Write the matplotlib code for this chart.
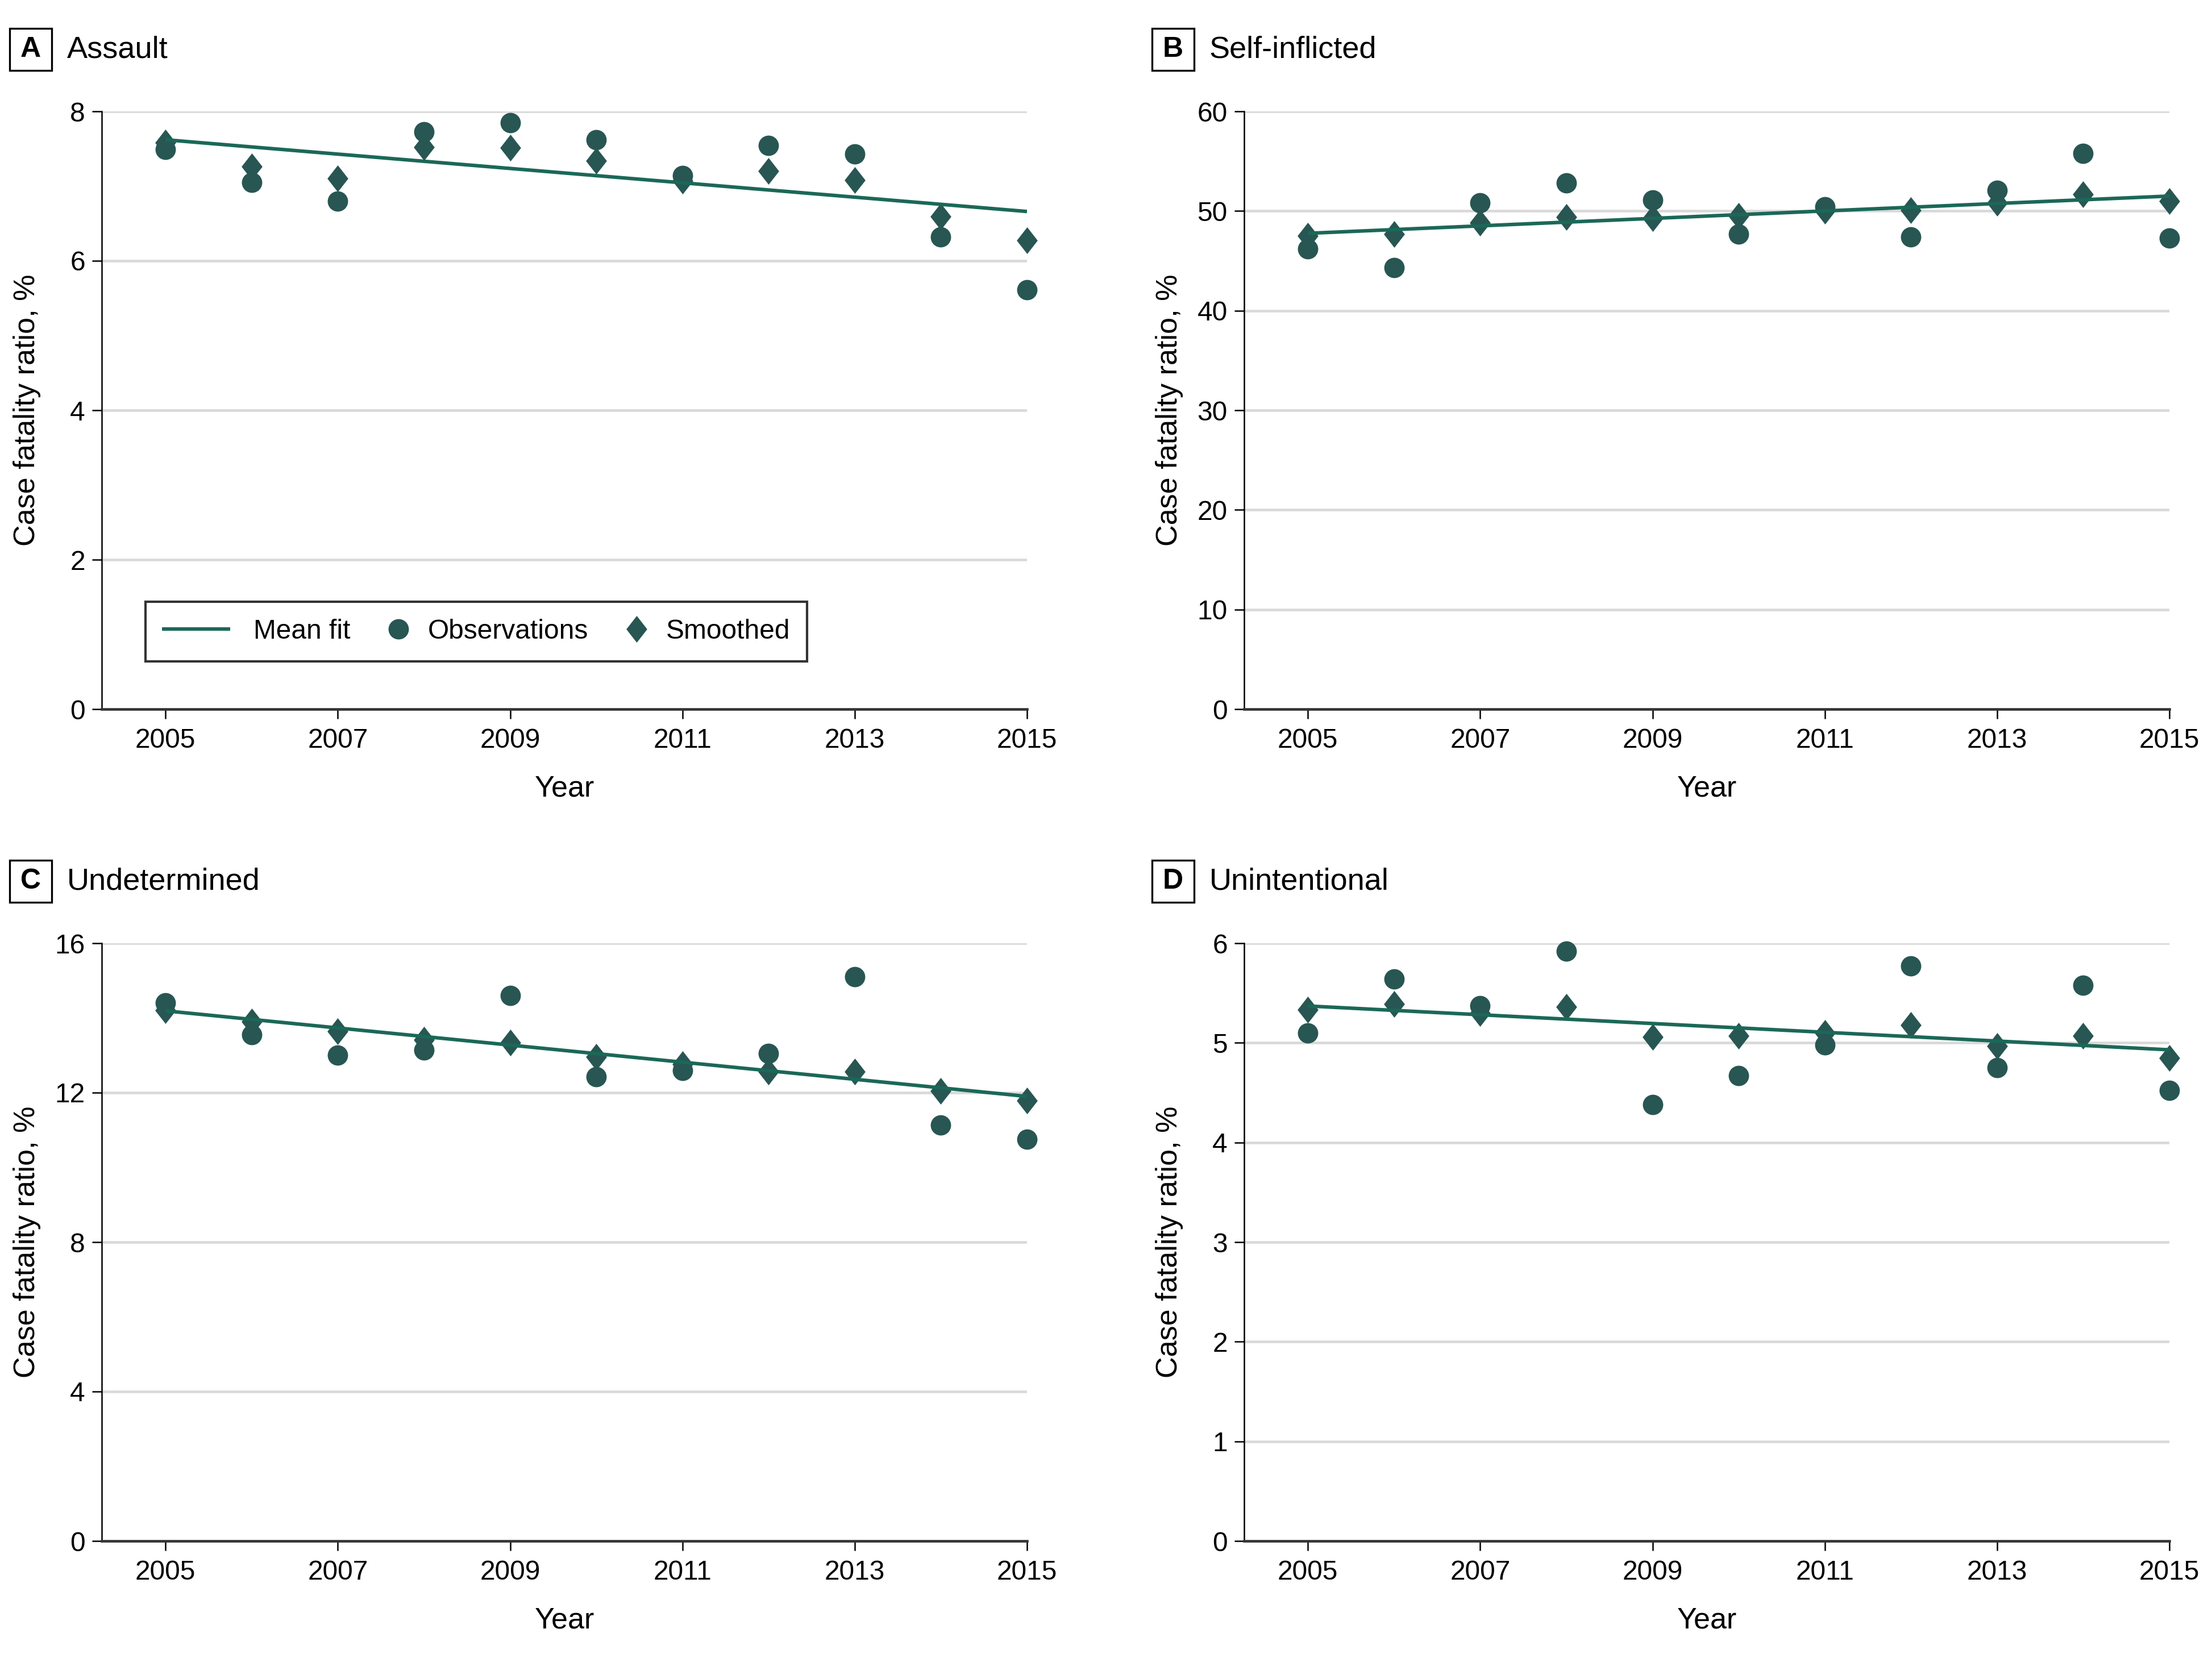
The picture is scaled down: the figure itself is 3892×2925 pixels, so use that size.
import matplotlib
matplotlib.use("Agg")
import matplotlib.pyplot as plt
from matplotlib.path import Path
from matplotlib.patches import Rectangle
from matplotlib.legend_handler import HandlerLine2D

plt.rcParams['font.family'] = ['Liberation Sans', 'DejaVu Sans']

years = [2005, 2006, 2007, 2008, 2009, 2010, 2011, 2012, 2013, 2014, 2015]
fit_years = [2005, 2015]

# A: Assault
obs_a = [7.49, 7.05, 6.80, 7.73, 7.85, 7.62, 7.14, 7.54, 7.43, 6.32, 5.61]
smo_a = [7.58, 7.26, 7.10, 7.52, 7.51, 7.34, 7.07, 7.20, 7.08, 6.59, 6.27]
fit_a = [7.62, 6.66]
# B: Self-inflicted
obs_b = [46.2, 44.3, 50.8, 52.8, 51.1, 47.7, 50.4, 47.4, 52.1, 55.8, 47.3]
smo_b = [47.5, 47.7, 48.8, 49.4, 49.3, 49.5, 50.0, 50.1, 50.8, 51.7, 51.0]
fit_b = [47.76, 51.5]
# C: Undetermined
obs_c = [14.40, 13.55, 13.00, 13.14, 14.60, 12.43, 12.59, 13.05, 15.11, 11.14, 10.76]
smo_c = [14.20, 13.90, 13.64, 13.42, 13.34, 12.96, 12.76, 12.56, 12.56, 12.04, 11.79]
fit_c = [14.19, 11.90]
# D: Unintentional
obs_d = [5.10, 5.64, 5.37, 5.92, 4.38, 4.67, 4.98, 5.77, 4.75, 5.58, 4.52]
smo_d = [5.33, 5.39, 5.30, 5.36, 5.06, 5.07, 5.10, 5.18, 4.97, 5.07, 4.85]
fit_d = [5.37, 4.93]

letters = ['A', 'B', 'C', 'D']
titles = ['Assault', 'Self-inflicted', 'Undetermined', 'Unintentional']
yticks = [[0, 2, 4, 6, 8], [0, 10, 20, 30, 40, 50, 60],
          [0, 4, 8, 12, 16], [0, 1, 2, 3, 4, 5, 6]]
xticks = [2005, 2007, 2009, 2011, 2013, 2015]

line_col = '#1b6858'
mark_col = '#285653'
diamond = Path([(0, 1), (0.78, 0), (0, -1), (-0.78, 0), (0, 1)],
               [1, 2, 2, 2, 79])


class LongLine(HandlerLine2D):
    """legend handler that gives the fit line a longer handle than markers"""
    def legend_artist(self, legend, orig_handle, fontsize, handlebox):
        handlebox.width = 2.5 * fontsize
        return super().legend_artist(legend, orig_handle, fontsize, handlebox)


W, H = 3892, 2925
fig = plt.figure(figsize=(W / 300, H / 300), dpi=300)

# axes boxes in pixels: left, top
boxes = [(179, 196), (2189, 196), (179, 1660), (2189, 1660)]
aw, ah = 1628, 1052

data = [(obs_a, smo_a, fit_a), (obs_b, smo_b, fit_b),
        (obs_c, smo_c, fit_c), (obs_d, smo_d, fit_d)]

for i, (obs, smo, fit) in enumerate(data):
    l, t = boxes[i]
    ax = fig.add_axes([l / W, 1 - (t + ah) / H, aw / W, ah / H])
    ln, = ax.plot(fit_years, fit, color=line_col, lw=1.5, zorder=4,
                  solid_capstyle='butt', label='Mean fit')
    ob, = ax.plot(years, obs, 'o', color=mark_col, ms=8.6, mec='none',
                  clip_on=False, zorder=3, label='Observations')
    sm, = ax.plot(years, smo, marker=diamond, ls='none', color=mark_col,
                  ms=11.3, mec='none', clip_on=False, zorder=3,
                  label='Smoothed')
    ax.set_xlim(2004.26, 2015)
    ax.set_ylim(yticks[i][0], yticks[i][-1])
    ax.set_xticks(xticks)
    ax.set_yticks(yticks[i])
    for y in yticks[i][1:]:
        ax.axhline(y, color='#d9d9d9', lw=1.1, zorder=1)
    for s in ['top', 'right']:
        ax.spines[s].set_visible(False)
    ax.spines['left'].set_linewidth(0.6)
    ax.spines['bottom'].set_linewidth(1.1)
    ax.spines['bottom'].set_color('#333333')
    ax.tick_params(axis='x', length=4, width=0.6, pad=4, labelsize=11.5)
    ax.tick_params(axis='y', length=4, width=0.6, pad=3, labelsize=11.5)
    ax.set_xlabel('Year', fontsize=12.5, labelpad=9)
    ax.set_ylabel('Case fatality ratio, %', fontsize=12.5)
    ax.yaxis.set_label_coords(-0.066, 0.5)

    # panel letter box and title
    bx, by = l - 162, t - 146
    fig.patches.append(Rectangle((bx / W, 1 - (by + 74) / H), 74 / W, 74 / H,
                                 transform=fig.transFigure, fill=False,
                                 ec='black', lw=0.8))
    fig.text((bx + 37) / W, 1 - (by + 37) / H, letters[i], ha='center',
             va='center', fontsize=12, fontweight='bold')
    fig.text((bx + 101) / W, 1 - (by + 37) / H, titles[i], ha='left',
             va='center', fontsize=13)

    if i == 0:
        leg = ax.legend(handles=[ln, ob, sm], ncol=3, loc='lower left',
                        bbox_to_anchor=(0.047, 0.080), borderaxespad=0,
                        fontsize=11.5, frameon=True, fancybox=False,
                        edgecolor='black', handlelength=0.45,
                        handletextpad=0.85, columnspacing=1.55,
                        borderpad=0.62, handler_map={ln: LongLine()})
        leg.get_frame().set_linewidth(1.0)

fig.savefig('out.png', dpi=300)
